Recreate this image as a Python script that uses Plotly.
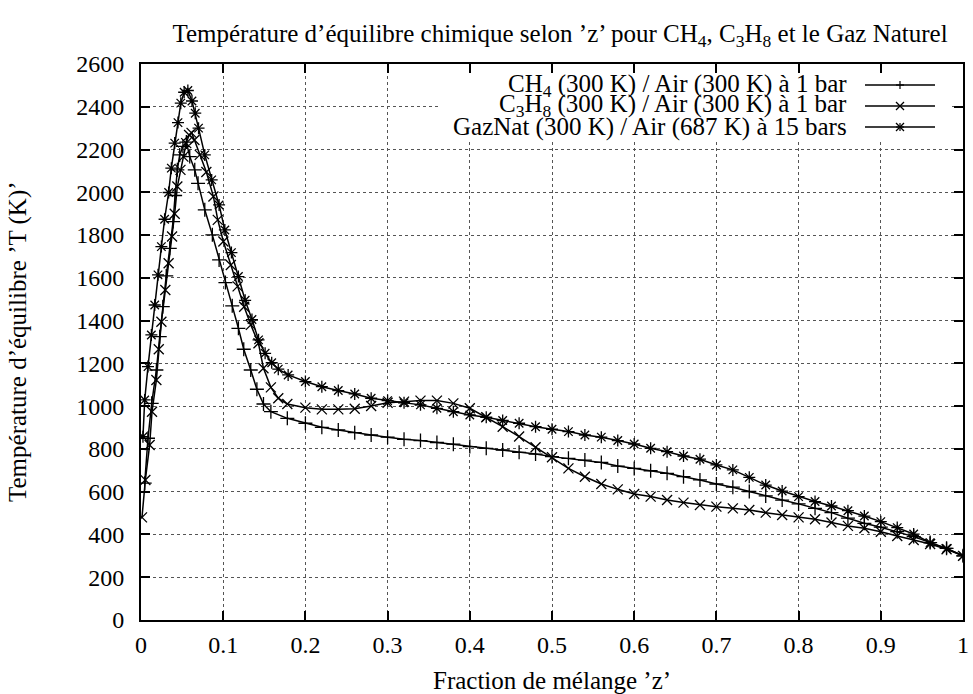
import plotly.graph_objects as go

# ---------------- data ----------------
ch4_z = [0.0045, 0.0085, 0.013, 0.0187, 0.0228, 0.0265, 0.0307, 0.035, 0.039, 0.0415,
         0.0442, 0.0471, 0.051, 0.0552, 0.0593, 0.0654, 0.0694, 0.0776, 0.0868, 0.095,
         0.1027, 0.111, 0.1185, 0.125, 0.1335, 0.141, 0.149, 0.158, 0.178,
         0.20, 0.22, 0.24, 0.26, 0.28, 0.30, 0.32, 0.34, 0.36, 0.38, 0.40, 0.42, 0.44,
         0.46, 0.48, 0.50, 0.52, 0.54, 0.56, 0.58, 0.60, 0.62, 0.64, 0.66, 0.68, 0.70,
         0.72, 0.74, 0.76, 0.78, 0.80, 0.82, 0.84, 0.86, 0.88, 0.90, 0.92, 0.94, 0.96,
         0.98, 1.0]
ch4_T = [640, 850, 1013, 1169, 1325, 1465, 1609, 1738, 1863, 1985,
         2105, 2175, 2215, 2235, 2167, 2105, 2042, 1918, 1801, 1684,
         1578, 1469, 1364, 1266, 1169, 1079, 1010, 974, 943,
         920, 901, 889, 876, 865, 855, 845, 839, 830, 822, 811, 803, 795,
         784, 776, 764, 756, 748, 737, 720, 709, 698, 686, 670, 655, 636,
         621, 601, 580, 561, 543, 522, 502, 476, 452, 434, 413, 390, 362,
         335, 300]

c3h8_z = [0.0012, 0.0053, 0.0105, 0.0134, 0.0187, 0.0216, 0.0248, 0.0296, 0.0336, 0.0378,
          0.041, 0.0442, 0.048, 0.0515, 0.055, 0.0585, 0.0615, 0.065, 0.0715, 0.0795,
          0.0881, 0.0934, 0.1002, 0.1093, 0.1175, 0.1255, 0.1336, 0.1429, 0.149, 0.158,
          0.167, 0.178,
          0.20, 0.22, 0.24, 0.26, 0.28, 0.30, 0.32, 0.34, 0.36, 0.38, 0.40, 0.42, 0.44,
          0.46, 0.48, 0.50, 0.52, 0.54, 0.56, 0.58, 0.60, 0.62, 0.64, 0.66, 0.68, 0.70,
          0.72, 0.74, 0.76, 0.78, 0.80, 0.82, 0.84, 0.86, 0.88, 0.90, 0.92, 0.94, 0.96,
          0.98, 1.0]
c3h8_T = [480, 655, 818, 974, 1122, 1266, 1395, 1543, 1668, 1793,
          1900, 2027, 2105, 2167, 2230, 2268, 2278, 2245, 2175, 2095,
          1980, 1871, 1770, 1660, 1560, 1465, 1380, 1294, 1177, 1088,
          1037, 1010,
          993, 985, 985, 988, 1001, 1016, 1021, 1026, 1026, 1013, 990, 948, 904,
          858, 808, 761, 709, 670, 636, 611, 589, 577, 561, 549, 538, 530,
          522, 514, 502, 491, 480, 471, 456, 440, 429, 413, 393, 374, 355,
          331, 300]

gaz_z = [0.0024, 0.0045, 0.0085, 0.0126, 0.0167, 0.0207, 0.0248, 0.0287, 0.0336, 0.0369,
         0.041, 0.045, 0.0484, 0.0525, 0.057, 0.062, 0.066, 0.070, 0.0776, 0.086,
         0.095, 0.102, 0.110, 0.1185, 0.1267, 0.135, 0.143, 0.151, 0.159, 0.167, 0.179,
         0.20, 0.22, 0.24, 0.26, 0.28, 0.30, 0.32, 0.34, 0.36, 0.38, 0.40, 0.42, 0.44,
         0.46, 0.48, 0.50, 0.52, 0.54, 0.56, 0.58, 0.60, 0.62, 0.64, 0.66, 0.68, 0.70,
         0.72, 0.74, 0.76, 0.78, 0.80, 0.82, 0.84, 0.86, 0.88, 0.90, 0.92, 0.94, 0.96,
         0.98, 1.0]
gaz_T = [857, 1029, 1185, 1333, 1473, 1614, 1746, 1874, 1999, 2113,
         2230, 2326, 2417, 2468, 2476, 2427, 2370, 2300, 2175, 2058,
         1941, 1824, 1718, 1606, 1495, 1405, 1310, 1247, 1203, 1173, 1146,
         1115, 1091, 1073, 1057, 1037, 1026, 1016, 1006, 990, 974, 959, 948, 933,
         920, 904, 892, 881, 865, 855, 839, 823, 803, 787, 767, 752, 725,
         702, 667, 631, 603, 577, 554, 533, 511, 486, 460, 432, 402, 362,
         335, 300]

series_names = ["CH<sub>4</sub> (300 K) / Air (300 K) à 1 bar",
                "C<sub>3</sub>H<sub>8</sub> (300 K) / Air (300 K) à 1 bar",
                "GazNat (300 K) / Air (687 K) à 15 bars"]
series_symbols = ["cross-thin-open", "x-thin-open", "asterisk-open"]

x_ticks = [0, 0.1, 0.2, 0.3, 0.4, 0.5, 0.6, 0.7, 0.8, 0.9, 1]
x_tick_labels = ["0", "0.1", "0.2", "0.3", "0.4", "0.5", "0.6", "0.7", "0.8", "0.9", "1"]
y_ticks = list(range(0, 2601, 200))

title_text = ("Température d’équilibre chimique selon ’z’ pour CH<sub>4</sub>, "
              "C<sub>3</sub>H<sub>8</sub> et le Gaz Naturel")
x_title = "Fraction de mélange ’z’"
y_title = "Température d’équilibre ’T (K)’"

# ---------------- figure ----------------
FONT = "Liberation Serif, Times New Roman, serif"
FS = 24      # tick labels
FT = 25      # titles / key
W, H = 973, 694
L, R, T, B = 141, 10, 64, 74
PW, PH = W - L - R, H - T - B

fig = go.Figure()
for zs, Ts, name, sym in zip([ch4_z, c3h8_z, gaz_z], [ch4_T, c3h8_T, gaz_T],
                             series_names, series_symbols):
    fig.add_trace(go.Scatter(
        x=zs, y=Ts, mode="lines+markers", name=name, showlegend=False,
        line=dict(color="black", width=1.5),
        marker=dict(symbol=sym, size=10, color="black",
                    line=dict(color="black", width=1.3)),
    ))

def px_to_paper_x(px):
    return (px - L) / PW

def px_to_paper_y(py):
    return (H - B - py) / PH

shapes = []
annotations = []

# opaque key box
shapes.append(dict(type="rect", xref="paper", yref="paper", layer="above",
                   x0=px_to_paper_x(440), x1=px_to_paper_x(952),
                   y0=px_to_paper_y(140), y1=px_to_paper_y(74),
                   fillcolor="white", line=dict(width=0)))

rows_py = [85, 106, 127]
text_right = 849
line_x0, line_x1, mark_x = 865, 935, 900
ms = 4
for i, (name, py) in enumerate(zip(series_names, rows_py)):
    yp = px_to_paper_y(py)
    annotations.append(dict(text=name, xref="paper", yref="paper",
                            x=px_to_paper_x(text_right), y=yp,
                            xanchor="right", yanchor="middle", showarrow=False,
                            font=dict(family=FONT, size=FT, color="black")))
    shapes.append(dict(type="line", xref="paper", yref="paper", layer="above",
                       x0=px_to_paper_x(line_x0), x1=px_to_paper_x(line_x1),
                       y0=yp, y1=yp, line=dict(color="black", width=1.5)))
    segs = []
    if i in (0, 2):
        segs += [(-ms, 0, ms, 0), (0, -ms, 0, ms)]
    if i in (1, 2):
        segs += [(-ms, -ms, ms, ms), (-ms, ms, ms, -ms)]
    for (a, b, c, d) in segs:
        shapes.append(dict(type="line", xref="paper", yref="paper", layer="above",
                           xsizemode="pixel", ysizemode="pixel",
                           xanchor=px_to_paper_x(mark_x), yanchor=yp,
                           x0=a, x1=c, y0=b, y1=d,
                           line=dict(color="black", width=1.2)))

# axis titles
annotations.append(dict(text=x_title, xref="paper", yref="paper",
                        x=0.5, y=px_to_paper_y(680), xanchor="center", yanchor="middle",
                        showarrow=False, font=dict(family=FONT, size=FT, color="black")))
annotations.append(dict(text=y_title, xref="paper", yref="paper",
                        x=px_to_paper_x(18), y=0.5, xanchor="center", yanchor="middle",
                        textangle=-90, showarrow=False,
                        font=dict(family=FONT, size=FT, color="black")))

axis_common = dict(showline=True, linecolor="black", linewidth=2, mirror="ticks",
                   ticks="inside", ticklen=9, tickwidth=2, tickcolor="black",
                   showgrid=True, gridcolor="#555555", griddash="dot", gridwidth=1,
                   zeroline=False, automargin=False,
                   tickfont=dict(family=FONT, size=FS, color="black"))

fig.update_layout(
    width=W, height=H,
    margin=dict(l=L, r=R, t=T, b=B, pad=0, autoexpand=False),
    paper_bgcolor="white", plot_bgcolor="white",
    font=dict(family=FONT, size=FS, color="black"),
    title=dict(text=title_text, xref="container", yref="container",
               x=560 / W, y=1 - 33 / H, xanchor="center", yanchor="middle",
               font=dict(family=FONT, size=FT, color="black")),
    xaxis=dict(range=[0, 1], tickvals=x_ticks, ticktext=x_tick_labels,
               ticklabelstandoff=2, **axis_common),
    yaxis=dict(range=[0, 2600], tickvals=y_ticks, ticklabelstandoff=10, **axis_common),
    shapes=shapes, annotations=annotations,
)

fig.write_html("out.html", config={"displayModeBar": False, "responsive": False})

# remove the default page margin so the figure sits at the window's top-left corner
with open("out.html", "r", encoding="utf-8") as f:
    html = f.read()
html = html.replace("<head>", "<head><style>html,body{margin:0;padding:0;overflow:hidden;}</style>", 1)
with open("out.html", "w", encoding="utf-8") as f:
    f.write(html)
